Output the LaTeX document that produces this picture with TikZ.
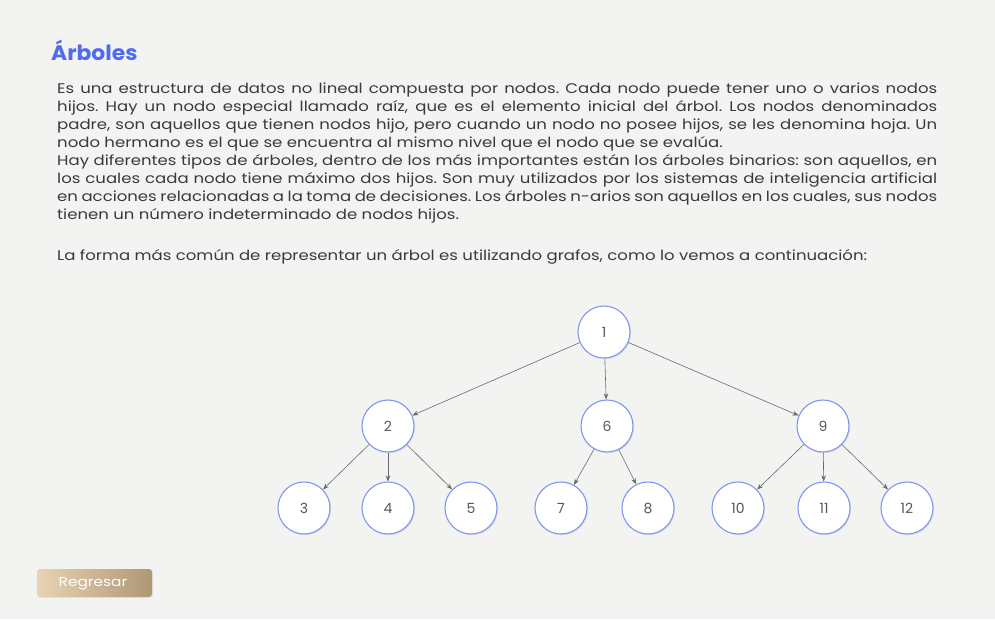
\documentclass[tikz,border=0pt]{standalone}
\usepackage{fontspec}
\setmainfont{Poppins}
\newfontfamily\bodyfont[FakeStretch=1.18]{Poppins}
\newfontfamily\titlefont[FakeStretch=1.04]{Poppins}
\usetikzlibrary{arrows.meta,shadows}
\definecolor{bg}{HTML}{F3F3F2}
\definecolor{titleblue}{HTML}{4F6CF0}
\definecolor{ringblue}{HTML}{7F97F2}
\definecolor{txt}{HTML}{3A3A3A}
\definecolor{edgegray}{HTML}{6A6A6A}
\definecolor{btnl}{HTML}{E8D3B4}
\definecolor{btnr}{HTML}{AE9775}
\tikzset{
  x=1pt,y=-1pt,
  tnode/.style={circle,draw=ringblue,line width=1.1pt,fill=white,minimum size=52pt,inner sep=0pt,
    font=\fontsize{14}{16}\selectfont,text=txt!85,
    drop shadow={opacity=0.18,shadow xshift=1.2pt,shadow yshift=-1.2pt}},
  conn/.style={draw=edgegray,line width=0.6pt,-{Stealth[length=6pt,width=4.5pt]}},
}
\begin{document}
\begin{tikzpicture}
\useasboundingbox (0,0) rectangle (995,619);
\fill[bg] (0,0) rectangle (995,619);
% title
\node[anchor=base west,inner sep=0pt,text=titleblue,font=\titlefont\fontsize{21}{24}\selectfont\bfseries] (title) at (51,60) {Árboles};
% body
\node[anchor=north west,inner sep=0pt,text=txt] (body) at (57,83) {\begin{minipage}{880pt}\bodyfont\fontsize{14}{18}\selectfont\frenchspacing\setlength{\parindent}{0pt}\setlength{\parskip}{0pt}%
Es una estructura de datos no lineal compuesta por nodos. Cada nodo puede tener uno o varios nodos\linebreak
hijos. Hay un nodo especial llamado raíz, que es el elemento inicial del árbol. Los nodos denominados\linebreak
padre, son aquellos que tienen nodos hijo, pero cuando un nodo no posee hijos, se les denomina hoja. Un\linebreak
nodo hermano es el que se encuentra al mismo nivel que el nodo que se evalúa.\par
Hay diferentes tipos de árboles, dentro de los más importantes están los árboles binarios: son aquellos, en\linebreak
los cuales cada nodo tiene máximo dos hijos. Son muy utilizados por los sistemas de inteligencia artificial\linebreak
en acciones relacionadas a la toma de decisiones. Los árboles n-arios son aquellos en los cuales, sus nodos\linebreak
tienen un número indeterminado de nodos hijos.\par
\vspace{23pt}
La forma más común de representar un árbol es utilizando grafos, como lo vemos a continuación:
\end{minipage}};
% tree
\node[tnode] (n1) at (604,332) {1};
\node[tnode] (n2) at (388,426) {2};
\node[tnode] (n6) at (607,426) {6};
\node[tnode] (n9) at (823,426) {9};
\node[tnode] (n3) at (304,508) {3};
\node[tnode] (n4) at (388,508) {4};
\node[tnode] (n5) at (471,508) {5};
\node[tnode] (n7) at (561,508) {7};
\node[tnode] (n8) at (648,508) {8};
\node[tnode] (n10) at (738,508) {10};
\node[tnode] (n11) at (824,508) {11};
\node[tnode] (n12) at (907,508) {12};
\draw[conn] (n1) -- (n2);
\draw[conn] (n1) -- (n6);
\draw[conn] (n1) -- (n9);
\draw[conn] (n2) -- (n3);
\draw[conn] (n2) -- (n4);
\draw[conn] (n2) -- (n5);
\draw[conn] (n6) -- (n7);
\draw[conn] (n6) -- (n8);
\draw[conn] (n9) -- (n10);
\draw[conn] (n9) -- (n11);
\draw[conn] (n9) -- (n12);
% button
\shade[left color=btnl,right color=btnr,rounded corners=3pt,drop shadow={opacity=0.12,shadow xshift=1pt,shadow yshift=-1pt}] (37,569) rectangle (152,597);
\node[text=white,font=\bodyfont\fontsize{13}{14}\selectfont] (btn) at (93,583.5) {Regresar};
\end{tikzpicture}
\end{document}
